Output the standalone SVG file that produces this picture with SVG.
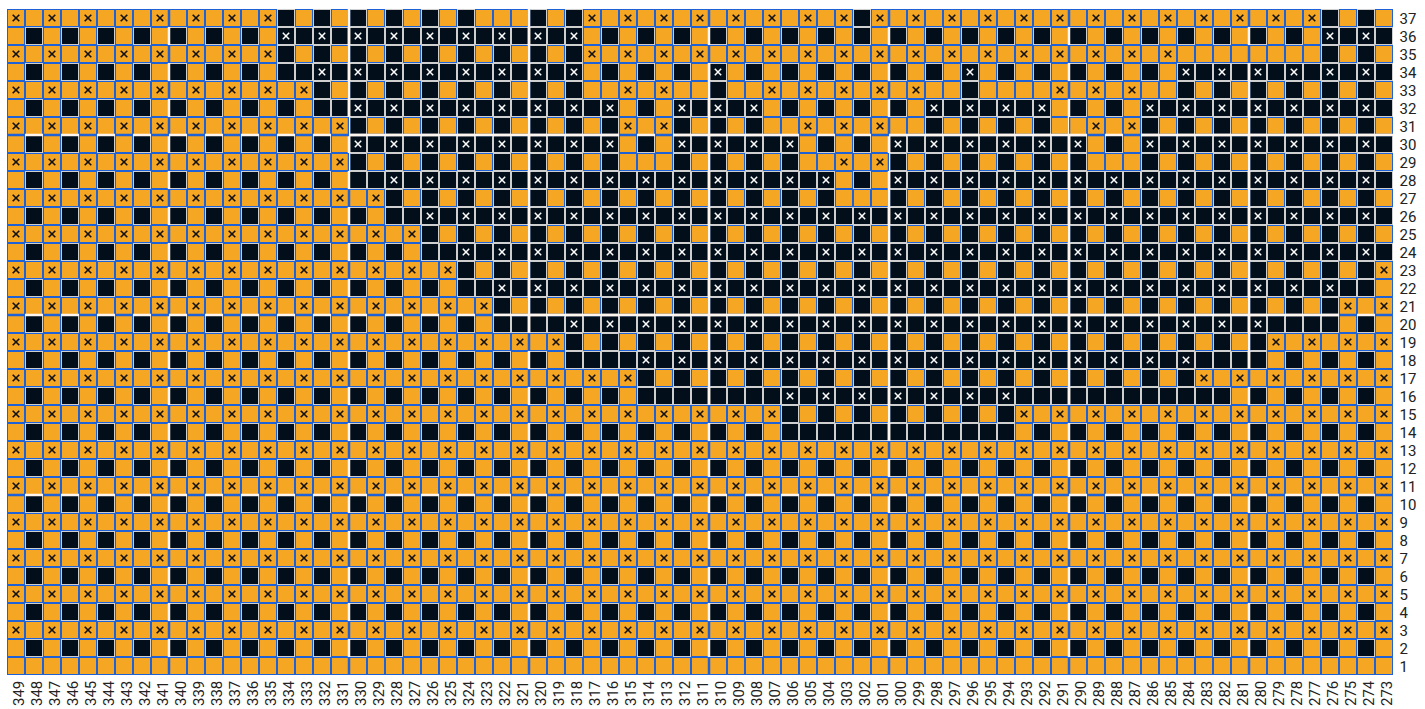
<svg xmlns="http://www.w3.org/2000/svg" width="1425" height="709" viewBox="0 0 1425 709">
<style>
.o{fill:#f5a623;stroke:#1f62d8;stroke-width:1}
.k{fill:#020f1b;stroke:#cfcfcf;stroke-width:1}
.xb{stroke:#111;stroke-width:1.6;fill:none}
.xw{stroke:#fff;stroke-width:1.5;fill:none}
text{font-family:Roboto,"Liberation Sans",sans-serif;font-size:15px;fill:#222}
</style>
<defs>
<g id="cO"><rect class="o" x="0.5" y="0.5" width="17" height="17"/></g>
<g id="cX"><use href="#cO"/><path class="xb" d="M5.7 5.7L12.3 12.3M12.3 5.7L5.7 12.3"/></g>
<g id="cK"><rect class="k" x="0.5" y="0.5" width="17" height="17"/></g>
<g id="cW"><use href="#cK"/><path class="xw" d="M5.8 5.8L12.2 12.2M12.2 5.8L5.8 12.2"/></g>
<pattern id="pB" patternUnits="userSpaceOnUse" x="7" y="9" width="36" height="36"><use href="#cX"/><use href="#cO" x="18"/><use href="#cO" y="18"/><use href="#cK" x="18" y="18"/></pattern>
<pattern id="pD" patternUnits="userSpaceOnUse" x="7" y="9" width="36" height="36"><use href="#cO"/><use href="#cK" x="18"/><use href="#cK" y="18"/><use href="#cW" x="18" y="18"/></pattern>
<pattern id="pO" patternUnits="userSpaceOnUse" x="7" y="9" width="18" height="18"><use href="#cO"/></pattern>
<pattern id="pK" patternUnits="userSpaceOnUse" x="7" y="9" width="18" height="18"><use href="#cK"/></pattern>
<pattern id="pVL" patternUnits="userSpaceOnUse" x="0" y="9" width="4" height="36"><rect width="4" height="18" fill="#1f62d8"/><rect y="18" width="4" height="18" fill="#fdf5ee"/></pattern>
<pattern id="pHL" patternUnits="userSpaceOnUse" x="7" y="0" width="36" height="4"><rect width="18" height="4" fill="#1f62d8"/><rect x="18" width="18" height="4" fill="#fdf5ee"/></pattern>
<g id="darkShapes">
<rect x="277" y="9" width="216" height="18"/>
<rect x="511" y="9" width="72" height="18"/>
<rect x="853" y="9" width="18" height="18"/>
<rect x="1321" y="9" width="72" height="54"/>
<rect x="277" y="27" width="306" height="36"/>
<rect x="295" y="63" width="288" height="18"/>
<rect x="709" y="63" width="18" height="18"/>
<rect x="961" y="63" width="18" height="18"/>
<rect x="1177" y="63" width="216" height="18"/>
<rect x="313" y="81" width="288" height="18"/>
<rect x="691" y="81" width="54" height="18"/>
<rect x="943" y="81" width="54" height="18"/>
<rect x="1015" y="81" width="18" height="18"/>
<rect x="1159" y="81" width="234" height="18"/>
<rect x="331" y="99" width="288" height="18"/>
<rect x="673" y="99" width="90" height="18"/>
<rect x="925" y="99" width="126" height="18"/>
<rect x="1141" y="99" width="252" height="54"/>
<rect x="349" y="117" width="270" height="36"/>
<rect x="673" y="117" width="108" height="18"/>
<rect x="907" y="117" width="162" height="18"/>
<rect x="673" y="135" width="126" height="18"/>
<rect x="889" y="135" width="198" height="18"/>
<rect x="349" y="153" width="288" height="18"/>
<rect x="655" y="153" width="162" height="18"/>
<rect x="889" y="153" width="216" height="18"/>
<rect x="1123" y="153" width="270" height="18"/>
<rect x="367" y="171" width="468" height="18"/>
<rect x="889" y="171" width="504" height="18"/>
<rect x="385" y="189" width="468" height="18"/>
<rect x="871" y="189" width="522" height="18"/>
<rect x="403" y="207" width="990" height="18"/>
<rect x="421" y="225" width="972" height="18"/>
<rect x="439" y="243" width="954" height="18"/>
<rect x="457" y="261" width="918" height="18"/>
<rect x="475" y="279" width="882" height="18"/>
<rect x="493" y="297" width="846" height="18"/>
<rect x="565" y="315" width="702" height="36"/>
<rect x="637" y="351" width="558" height="36"/>
<rect x="781" y="387" width="234" height="36"/>
</g>
<g id="kShapes">
<rect x="511" y="315" width="54" height="18"/>
<rect x="1267" y="315" width="72" height="18"/>
<rect x="583" y="351" width="54" height="18"/>
<rect x="1195" y="351" width="72" height="18"/>
<rect x="637" y="387" width="144" height="18"/>
<rect x="1015" y="387" width="216" height="18"/>
<rect x="781" y="423" width="234" height="18"/>
</g>
<g id="groupLineShapes">
<rect x="167.75" y="9" width="2.5" height="666"/>
<rect x="347.75" y="9" width="2.5" height="666"/>
<rect x="527.75" y="9" width="2.5" height="666"/>
<rect x="707.75" y="9" width="2.5" height="666"/>
<rect x="887.75" y="9" width="2.5" height="666"/>
<rect x="1067.75" y="9" width="2.5" height="666"/>
<rect x="1247.75" y="9" width="2.5" height="666"/>
</g>
<g id="groupLineShapesH">
<rect x="7" y="133.75" width="1386" height="2.5"/>
<rect x="7" y="313.75" width="1386" height="2.5"/>
<rect x="7" y="493.75" width="1386" height="2.5"/>
</g>
<mask id="mDark" maskUnits="userSpaceOnUse" x="0" y="0" width="1425" height="709"><use href="#darkShapes" fill="#fff"/><use href="#kShapes" fill="#fff"/></mask>
</defs>
<rect width="1425" height="709" fill="#fff"/>
<g id="grid">
<rect x="7" y="9" width="1386" height="666" fill="url(#pB)"/>
<rect x="7" y="657" width="1386" height="18" fill="url(#pO)"/>
</g>
<g id="dark-regions">
<use href="#darkShapes" fill="url(#pD)"/>
</g>
<g id="plain-runs">
<rect x="1195" y="45" width="126" height="18" fill="url(#pO)"/>
<use href="#kShapes" fill="url(#pK)"/>
</g>
<g id="group-lines">
<use href="#groupLineShapes" fill="url(#pVL)"/>
<use href="#groupLineShapesH" fill="url(#pHL)"/>
<g mask="url(#mDark)" fill="#fdf5ee">
<use href="#groupLineShapes"/>
<use href="#groupLineShapesH"/>
</g>
</g>
<g id="row-labels">
<text x="1399.5" y="23.5">37</text><text x="1399.5" y="41.5">36</text><text x="1399.5" y="59.5">35</text><text x="1399.5" y="77.5">34</text><text x="1399.5" y="95.5">33</text><text x="1399.5" y="113.5">32</text><text x="1399.5" y="131.5">31</text><text x="1399.5" y="149.5">30</text><text x="1399.5" y="167.5">29</text><text x="1399.5" y="185.5">28</text><text x="1399.5" y="203.5">27</text><text x="1399.5" y="221.5">26</text><text x="1399.5" y="239.5">25</text><text x="1399.5" y="257.5">24</text><text x="1399.5" y="275.5">23</text><text x="1399.5" y="293.5">22</text><text x="1399.5" y="311.5">21</text><text x="1399.5" y="329.5">20</text><text x="1399.5" y="347.5">19</text><text x="1399.5" y="365.5">18</text><text x="1399.5" y="383.5">17</text><text x="1399.5" y="401.5">16</text><text x="1399.5" y="419.5">15</text><text x="1399.5" y="437.5">14</text><text x="1399.5" y="455.5">13</text><text x="1399.5" y="473.5">12</text><text x="1399.5" y="491.5">11</text><text x="1399.5" y="509.5">10</text><text x="1399.5" y="527.5">9</text><text x="1399.5" y="545.5">8</text><text x="1399.5" y="563.5">7</text><text x="1399.5" y="581.5">6</text><text x="1399.5" y="599.5">5</text><text x="1399.5" y="617.5">4</text><text x="1399.5" y="635.5">3</text><text x="1399.5" y="653.5">2</text><text x="1399.5" y="671.5">1</text>
</g>
<g id="col-labels">
<text transform="rotate(-90 23.5 706)" x="23.5" y="706">349</text>
<text transform="rotate(-90 41.5 706)" x="41.5" y="706">348</text>
<text transform="rotate(-90 59.5 706)" x="59.5" y="706">347</text>
<text transform="rotate(-90 77.5 706)" x="77.5" y="706">346</text>
<text transform="rotate(-90 95.5 706)" x="95.5" y="706">345</text>
<text transform="rotate(-90 113.5 706)" x="113.5" y="706">344</text>
<text transform="rotate(-90 131.5 706)" x="131.5" y="706">343</text>
<text transform="rotate(-90 149.5 706)" x="149.5" y="706">342</text>
<text transform="rotate(-90 167.5 706)" x="167.5" y="706">341</text>
<text transform="rotate(-90 185.5 706)" x="185.5" y="706">340</text>
<text transform="rotate(-90 203.5 706)" x="203.5" y="706">339</text>
<text transform="rotate(-90 221.5 706)" x="221.5" y="706">338</text>
<text transform="rotate(-90 239.5 706)" x="239.5" y="706">337</text>
<text transform="rotate(-90 257.5 706)" x="257.5" y="706">336</text>
<text transform="rotate(-90 275.5 706)" x="275.5" y="706">335</text>
<text transform="rotate(-90 293.5 706)" x="293.5" y="706">334</text>
<text transform="rotate(-90 311.5 706)" x="311.5" y="706">333</text>
<text transform="rotate(-90 329.5 706)" x="329.5" y="706">332</text>
<text transform="rotate(-90 347.5 706)" x="347.5" y="706">331</text>
<text transform="rotate(-90 365.5 706)" x="365.5" y="706">330</text>
<text transform="rotate(-90 383.5 706)" x="383.5" y="706">329</text>
<text transform="rotate(-90 401.5 706)" x="401.5" y="706">328</text>
<text transform="rotate(-90 419.5 706)" x="419.5" y="706">327</text>
<text transform="rotate(-90 437.5 706)" x="437.5" y="706">326</text>
<text transform="rotate(-90 455.5 706)" x="455.5" y="706">325</text>
<text transform="rotate(-90 473.5 706)" x="473.5" y="706">324</text>
<text transform="rotate(-90 491.5 706)" x="491.5" y="706">323</text>
<text transform="rotate(-90 509.5 706)" x="509.5" y="706">322</text>
<text transform="rotate(-90 527.5 706)" x="527.5" y="706">321</text>
<text transform="rotate(-90 545.5 706)" x="545.5" y="706">320</text>
<text transform="rotate(-90 563.5 706)" x="563.5" y="706">319</text>
<text transform="rotate(-90 581.5 706)" x="581.5" y="706">318</text>
<text transform="rotate(-90 599.5 706)" x="599.5" y="706">317</text>
<text transform="rotate(-90 617.5 706)" x="617.5" y="706">316</text>
<text transform="rotate(-90 635.5 706)" x="635.5" y="706">315</text>
<text transform="rotate(-90 653.5 706)" x="653.5" y="706">314</text>
<text transform="rotate(-90 671.5 706)" x="671.5" y="706">313</text>
<text transform="rotate(-90 689.5 706)" x="689.5" y="706">312</text>
<text transform="rotate(-90 707.5 706)" x="707.5" y="706">311</text>
<text transform="rotate(-90 725.5 706)" x="725.5" y="706">310</text>
<text transform="rotate(-90 743.5 706)" x="743.5" y="706">309</text>
<text transform="rotate(-90 761.5 706)" x="761.5" y="706">308</text>
<text transform="rotate(-90 779.5 706)" x="779.5" y="706">307</text>
<text transform="rotate(-90 797.5 706)" x="797.5" y="706">306</text>
<text transform="rotate(-90 815.5 706)" x="815.5" y="706">305</text>
<text transform="rotate(-90 833.5 706)" x="833.5" y="706">304</text>
<text transform="rotate(-90 851.5 706)" x="851.5" y="706">303</text>
<text transform="rotate(-90 869.5 706)" x="869.5" y="706">302</text>
<text transform="rotate(-90 887.5 706)" x="887.5" y="706">301</text>
<text transform="rotate(-90 905.5 706)" x="905.5" y="706">300</text>
<text transform="rotate(-90 923.5 706)" x="923.5" y="706">299</text>
<text transform="rotate(-90 941.5 706)" x="941.5" y="706">298</text>
<text transform="rotate(-90 959.5 706)" x="959.5" y="706">297</text>
<text transform="rotate(-90 977.5 706)" x="977.5" y="706">296</text>
<text transform="rotate(-90 995.5 706)" x="995.5" y="706">295</text>
<text transform="rotate(-90 1013.5 706)" x="1013.5" y="706">294</text>
<text transform="rotate(-90 1031.5 706)" x="1031.5" y="706">293</text>
<text transform="rotate(-90 1049.5 706)" x="1049.5" y="706">292</text>
<text transform="rotate(-90 1067.5 706)" x="1067.5" y="706">291</text>
<text transform="rotate(-90 1085.5 706)" x="1085.5" y="706">290</text>
<text transform="rotate(-90 1103.5 706)" x="1103.5" y="706">289</text>
<text transform="rotate(-90 1121.5 706)" x="1121.5" y="706">288</text>
<text transform="rotate(-90 1139.5 706)" x="1139.5" y="706">287</text>
<text transform="rotate(-90 1157.5 706)" x="1157.5" y="706">286</text>
<text transform="rotate(-90 1175.5 706)" x="1175.5" y="706">285</text>
<text transform="rotate(-90 1193.5 706)" x="1193.5" y="706">284</text>
<text transform="rotate(-90 1211.5 706)" x="1211.5" y="706">283</text>
<text transform="rotate(-90 1229.5 706)" x="1229.5" y="706">282</text>
<text transform="rotate(-90 1247.5 706)" x="1247.5" y="706">281</text>
<text transform="rotate(-90 1265.5 706)" x="1265.5" y="706">280</text>
<text transform="rotate(-90 1283.5 706)" x="1283.5" y="706">279</text>
<text transform="rotate(-90 1301.5 706)" x="1301.5" y="706">278</text>
<text transform="rotate(-90 1319.5 706)" x="1319.5" y="706">277</text>
<text transform="rotate(-90 1337.5 706)" x="1337.5" y="706">276</text>
<text transform="rotate(-90 1355.5 706)" x="1355.5" y="706">275</text>
<text transform="rotate(-90 1373.5 706)" x="1373.5" y="706">274</text>
<text transform="rotate(-90 1391.5 706)" x="1391.5" y="706">273</text>
</g>
</svg>
